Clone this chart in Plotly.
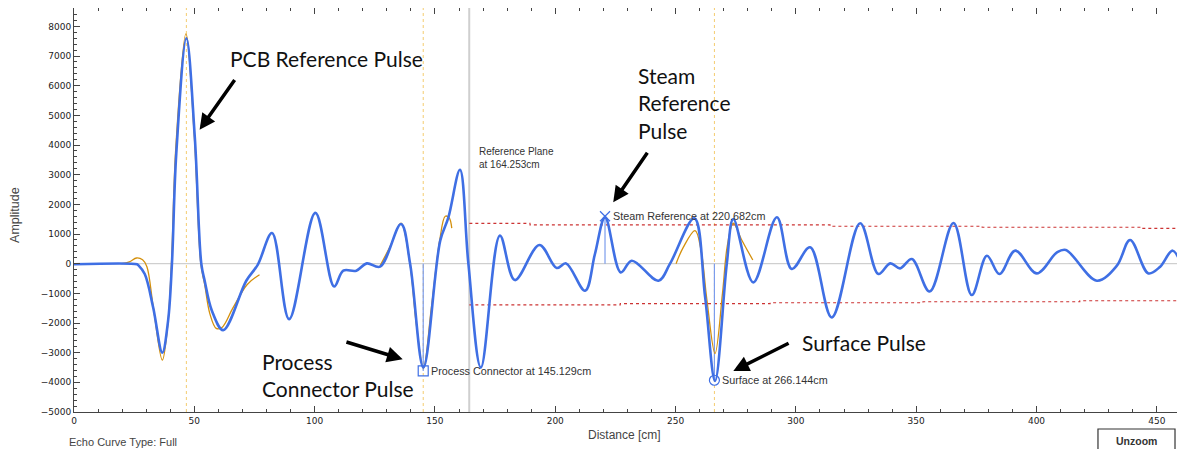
import plotly.graph_objects as go

# ---------------- data ----------------
# Echo curve (blue)
dist = [0, 26.2, 26.7, 29.4, 32.9, 36.7, 39.1, 40.7, 42.5, 46.7, 50.2, 52.9, 54.3, 57.3, 62.0,
        71.6, 76.4, 82.3, 89.4, 100.3, 108.1, 111.9, 117.3, 121.7, 127.2, 135.9, 139.7, 145.2,
        152.2, 155.6, 160.4, 163.9, 169.1, 177.0, 183.2, 193.4, 200.6, 204.5, 212.4, 216.5,
        220.7, 227.2, 231.8, 242.9, 247.7, 257.8, 262.3, 266.4, 271.3, 274.0, 282.3, 292.1,
        298.3, 305.9, 314.9, 326.7, 334.3, 339.2, 343.3, 348.2, 355.6, 365.5, 373.1, 379.4,
        384.6, 391.2, 400.1, 408.5, 412.2, 425.1, 433.4, 438.9, 446.5, 451.4, 456.6, 461.8]
amp = [-20, -20, -50, -350, -1476, -3000, -1926, 0, 3706, 7600, 4267, 0, -575, -1588, -2240,
       -575, -30, 1036, -1870, 1712, -767, -236, -236, 10, -100, 1340, -10, -3500,
       777, 1565, 3165, 0, -3502, 946, -552, 631, -146, 10, -912, 327,
       1560, -293, 101, -574, 0, 1530, -1138, -3950, 0, 1509, -630, 1565,
       -180, 552, -1813, 1363, -349, 10, -158, 158, -935, 1374, -1058, 270,
       -349, 439, -327, 383, 462, -574, -68, 800, -327, -101, 439, -439]

# Reference pulse fits (orange)
fit1_x = [19.7, 23, 26, 28.5, 30.3, 33, 36.7, 38.8, 40.5, 42.3, 46.5, 50, 52.7, 54.3, 56.5, 59.1, 61.5, 66, 72, 77.1]
fit1_y = [0, 60, 192, 130, -100, -1500, -3253, -2200, 0, 3900, 7750, 4300, 0, -700, -1700, -2180, -2150, -1500, -700, -372]
fit2_x = [127.2, 131.5, 135.9, 139.6, 142.2, 145.2, 148.5, 152.0, 154.3, 155.9, 157.0]
fit2_y = [-68, 600, 1370, 0, -2000, -3520, -1500, 800, 1600, 1550, 1200]
fit3_x = [250.2, 253.2, 258.1, 260.5, 263, 266.4, 269.5, 271.5, 274.0, 277.5, 282.1]
fit3_y = [0, 550, 1115, 500, -1200, -3030, -1000, 600, 1363, 800, 125]

# Threshold curves (red dotted)
thr_hi_x = [164.3, 189.5, 189.5, 314.2, 314.2, 377.4, 377.4, 443.6, 443.6, 461.8]
thr_hi_y = [1360, 1360, 1310, 1310, 1260, 1260, 1227, 1227, 1190, 1190]
thr_lo_x = [164.3, 227.0, 227.0, 289.3, 289.3, 352.8, 352.8, 418.0, 418.0, 461.8]
thr_lo_y = [-1390, -1390, -1345, -1345, -1315, -1315, -1284, -1284, -1250, -1250]

# Detected pulses
pcb_x = 46.7
ref_plane_x = 164.253
markers_x = [145.129, 220.682, 266.144]
markers_y = [-3615, 1598, -3930]
marker_labels = ["Process Connector at 145.129cm", "Steam Reference at 220.682cm", "Surface at 266.144cm"]
marker_symbols = ["square-open", "x-thin-open", "circle-open"]

x_range = [0, 461.3]
y_range = [-5000, 8620]

# ---------------- figure ----------------
fig = go.Figure()

fig.add_trace(go.Scatter(x=x_range, y=[0, 0], mode="lines",
                         line=dict(color="#c4c4c4", width=1), hoverinfo="skip"))
fig.add_trace(go.Scatter(x=[ref_plane_x, ref_plane_x], y=y_range, mode="lines",
                         line=dict(color="#cfcfcf", width=2), hoverinfo="skip"))
for vx in [pcb_x, markers_x[0], markers_x[2]]:
    fig.add_trace(go.Scatter(x=[vx, vx], y=y_range, mode="lines",
                             line=dict(color="#f4cc70", width=1, dash="dot"), hoverinfo="skip"))
for tx, ty in [(thr_hi_x, thr_hi_y), (thr_lo_x, thr_lo_y)]:
    fig.add_trace(go.Scatter(x=tx, y=ty, mode="lines",
                             line=dict(color="#cc3333", width=1.1, dash="dot"), hoverinfo="skip"))
for mx, my in zip(markers_x, markers_y):
    fig.add_trace(go.Scatter(x=[mx, mx], y=[0, my], mode="lines",
                             line=dict(color="#7b9cec", width=1.2), hoverinfo="skip"))
for fx, fy in [(fit1_x, fit1_y), (fit2_x, fit2_y), (fit3_x, fit3_y)]:
    fig.add_trace(go.Scatter(x=fx, y=fy, mode="lines", line_shape="spline",
                             line=dict(color="#d4900c", width=1.3), hoverinfo="skip"))
fig.add_trace(go.Scatter(x=dist, y=amp, mode="lines", line_shape="spline",
                         line=dict(color="#3f6fe4", width=2.6, smoothing=1.0), hoverinfo="skip"))
for mx, my, sym in zip(markers_x, markers_y, marker_symbols):
    fig.add_trace(go.Scatter(x=[mx], y=[my], mode="markers",
                             marker=dict(symbol=sym, size=10, color="#3f6fe4",
                                         line=dict(color="#3f6fe4", width=1.2)),
                             hoverinfo="skip"))

ann = []
for mx, my, lab in zip(markers_x, markers_y, marker_labels):
    ann.append(dict(x=mx, y=my, xref="x", yref="y", text=lab, showarrow=False,
                    xanchor="left", yanchor="middle", xshift=6,
                    font=dict(family="Liberation Sans, Arial", size=10.8, color="#333333")))
ann.append(dict(x=167.4, y=3564, xref="x", yref="y", text="Reference Plane<br>at 164.253cm",
                showarrow=False, xanchor="left", yanchor="middle", align="left",
                font=dict(family="Liberation Sans, Arial", size=10, color="#333333")))

big_font = dict(family="Lato, Open Sans", size=21, color="#111111")
big_texts = [("PCB Reference Pulse", 64.0, 6926),
             ("Steam<br>Reference<br>Pulse", 233.6, 5405),
             ("Process<br>Connector Pulse", 77.3, -3767),
             ("Surface Pulse", 301.7, -2669)]
for t, tx, ty in big_texts:
    ann.append(dict(x=tx, y=ty, xref="x", yref="y", text=t, showarrow=False,
                    xanchor="left", yanchor="middle", align="left", font=big_font))

arrows = [((52.2, 4517), (67.2, 6240)),
          ((224.1, 2071), (238.7, 3794)),
          ((136.6, -3220), (112.6, -2625)),
          ((274.0, -3615), (297.6, -2659))]
for (hx, hy), (tx, ty) in arrows:
    ann.append(dict(x=hx, y=hy, ax=tx, ay=ty, xref="x", yref="y", axref="x", ayref="y",
                    text="", showarrow=True, arrowhead=2, arrowsize=0.9, arrowwidth=3.5,
                    arrowcolor="#000000", standoff=0))

ann.append(dict(x=-0.0532, y=0.4876, xref="paper", yref="paper", text="Amplitude",
                textangle=-90, showarrow=False, xanchor="center", yanchor="middle",
                font=dict(family="Liberation Sans, Arial", size=12.5, color="#444444")))
ann.append(dict(x=0.4955, y=-0.0569, xref="paper", yref="paper", text="Distance [cm]",
                showarrow=False, xanchor="center", yanchor="middle",
                font=dict(family="Liberation Sans, Arial", size=12, color="#444444")))
ann.append(dict(x=-0.0063, y=-0.0734, xref="paper", yref="paper", text="Echo Curve Type: Full",
                showarrow=False, xanchor="left", yanchor="middle",
                font=dict(family="Liberation Sans, Arial", size=11, color="#444444")))
ann.append(dict(x=0.9568, y=-0.0718, xref="paper", yref="paper", text="<b>Unzoom</b>",
                showarrow=False, xanchor="center", yanchor="middle",
                font=dict(family="Liberation Sans, Arial", size=10.5, color="#333333")))

fig.add_shape(type="rect", xref="paper", yref="paper", x0=0.9225, x1=0.9919, y0=-0.12, y1=-0.0421,
              line=dict(color="#333333", width=1.2), fillcolor="rgba(0,0,0,0)")

tickfont = dict(family="DejaVu Sans", size=9, color="#222222")
# the page body adds an 8px offset, so the figure is sized to fill the rest of the window
fig.update_layout(
    width=1177, height=441,
    margin=dict(l=66, r=1, t=0, b=37),
    paper_bgcolor="white", plot_bgcolor="white",
    showlegend=False,
    annotations=ann,
    xaxis=dict(range=x_range, dtick=50, tick0=0, showgrid=False, zeroline=False,
               showline=True, linecolor="#444444", linewidth=1, mirror="ticks",
               ticks="inside", ticklen=6, tickcolor="#444444", tickfont=tickfont,
               minor=dict(dtick=10, ticks="inside", ticklen=3, tickcolor="#444444")),
    yaxis=dict(range=y_range, dtick=1000, tick0=0, showgrid=False, zeroline=False,
               showline=True, linecolor="#444444", linewidth=1, mirror="ticks",
               ticks="inside", ticklen=6, tickcolor="#444444", tickfont=tickfont,
               tickformat="d",
               minor=dict(dtick=200, ticks="inside", ticklen=3, tickcolor="#444444")),
)

fig.write_html("out.html")
